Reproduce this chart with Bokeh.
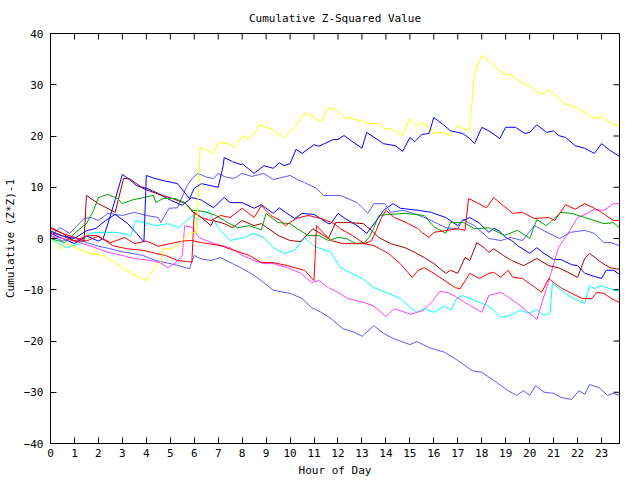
import math
from bokeh.plotting import figure
from bokeh.models import Range1d, FixedTicker
from bokeh.embed import file_html
from bokeh.resources import INLINE

title_text = "Cumulative Z-Squared Value"
x_label = "Hour of Day"
y_label = "Cumulative (Z*Z)-1"
hour_ticks = list(range(0, 24))
value_ticks = [-40, -30, -20, -10, 0, 10, 20, 30, 40]
x_min, x_max = 0, 23.75
y_min, y_max = -40, 40

# ---- series (hour, value) ----
yellow_h = [0, 0.4, 0.6, 1.05, 1.6, 2.2, 2.7, 3.3, 4.0, 4.3, 4.6, 4.7, 5.1, 5.4, 5.6, 5.9, 6.1, 6.25, 6.8, 7.0, 7.4, 7.7, 8.0, 8.25, 8.5, 8.7, 9.3, 9.75, 10.2, 10.5, 10.7, 11.3, 11.6, 11.8, 12.3, 12.8, 13.3, 13.7, 13.9, 14.2, 14.7, 15.0, 15.3, 15.5, 15.8, 16.0, 16.4, 16.7, 17.0, 17.3, 17.5, 17.7, 18.0, 18.4, 19.0, 19.2, 19.75, 20.0, 20.5, 20.8, 21.5, 22.0, 22.7, 23.0, 23.3, 23.75]
yellow_v = [0, -2, -1, -1.8, -2.9, -3.3, -4.7, -6.6, -8.2, -5.9, -4.6, -2, -2, -1, 0.2, 1.2, 1.2, 17.8, 16.6, 18.7, 18.5, 17.8, 19.9, 19.5, 20.3, 22.2, 21.2, 19.7, 21.7, 24, 24.4, 22.8, 25.4, 25.4, 23.6, 23.2, 22.4, 22.4, 21.5, 21.4, 20.1, 23.4, 22, 22.6, 21.7, 20.5, 20.7, 20, 22.2, 21.2, 21.4, 32.2, 35.7, 34.1, 32, 32, 30.2, 29.8, 28.1, 29, 26.3, 25.4, 23.4, 23.8, 22.8, 21.7]

blue1_h = [0, 0.5, 1.0, 1.5, 1.9, 2.3, 2.7, 3.2, 3.6, 3.9, 4.0, 4.3, 4.7, 5.3, 5.8, 6.0, 6.3, 7.0, 7.2, 7.25, 7.6, 7.95, 8.0, 8.5, 8.9, 9.3, 9.55, 9.75, 10.0, 10.25, 10.5, 11.0, 11.2, 11.8, 12.0, 12.25, 13.0, 13.2, 13.9, 14.4, 14.7, 15.0, 15.2, 15.5, 15.8, 16.0, 16.4, 16.7, 17.0, 17.2, 17.5, 17.7, 18.0, 18.3, 18.75, 19.0, 19.4, 19.8, 20.0, 20.3, 20.7, 21.0, 21.2, 21.5, 21.9, 22.3, 22.7, 23.0, 23.35, 23.75]
blue1_v = [1.5, 0.5, 0, 1.5, 2, 3.5, 4.7, 3, 1, -0.7, 12.3, 11.8, 11.3, 10.7, 7.8, 9.8, 10.7, 10, 14, 15.8, 15, 14.4, 14.6, 12.7, 14.2, 13.7, 14.8, 14.2, 14.6, 17.4, 16.6, 18.3, 18, 19.3, 19.3, 20.1, 17.6, 20.7, 18.5, 18.1, 17, 19.7, 18.9, 20.3, 20.5, 23.6, 22.2, 21, 20.7, 20.5, 19.5, 18.5, 21.7, 21, 19.5, 21.7, 21.7, 20.5, 20.7, 22.2, 20.7, 21, 20.1, 19.7, 18.1, 17.6, 16.6, 18.5, 17.2, 16]

blue2_h = [0, 0.5, 1.0, 1.5, 2.0, 2.2, 2.6, 3.0, 3.3, 3.6, 4.0, 4.5, 5.0, 5.5, 5.9, 6.3, 6.8, 7.25, 7.5, 8.0, 8.5, 8.8, 9.3, 9.55, 9.8, 10.2, 10.5, 11.0, 11.6, 11.7, 12.0, 12.3, 12.8, 13.2, 13.7, 13.9, 14.3, 14.6, 15.35, 15.9, 16.0, 16.5, 17.0, 17.2, 17.5, 17.9, 18.3, 18.5, 18.75, 19.0, 19.25, 19.5, 20.0, 20.3, 20.6, 21.0, 21.3, 21.75, 22.0, 22.3, 22.7, 23.0, 23.2, 23.5, 23.75]
blue2_v = [1, 0, -1, 0.5, -0.5, 0, 6, 12.5, 11.5, 10.3, 9.8, 8.8, 7.5, 6.5, 8, 7.5, 6, 8, 7, 7, 5.9, 6.6, 4.9, 6, 5.1, 3.9, 4.9, 4.7, 2.9, 2.9, 4.9, 3.9, 2.5, 1, 4.1, 5.5, 6.8, 5.9, 5.5, 5.1, 4.9, 4.1, 2.5, 3.5, 4.1, 3, 1.2, 2, 1.4, 0.2, -0.4, -1.4, -2.9, -1.8, -2.9, -4.1, -4.1, -5.1, -5.3, -6.8, -7.4, -7.8, -6.2, -6.2, -7]

lblue1_h = [0, 0.4, 0.8, 1.4, 1.7, 2.0, 2.4, 3.0, 3.5, 4.0, 4.5, 4.6, 4.95, 5.3, 5.7, 5.95, 6.15, 6.5, 6.8, 7.0, 7.3, 7.65, 8.0, 8.4, 8.9, 9.3, 10.0, 10.3, 10.6, 11.1, 11.4, 12.1, 12.8, 13.25, 13.5, 13.95, 14.2, 14.7, 15.15, 15.5, 15.9, 16.5, 17.0, 17.2, 17.7, 18.3, 18.8, 19.2, 19.7, 20.2, 20.6, 21.25, 21.7, 22.3, 22.7, 23.1, 23.4, 23.75]
lblue1_v = [0.5, 2.1, 1, 3.9, 4.1, 3.5, 4.9, 4.5, 5.1, 4.5, 4.1, 3.1, 5.9, 6, 10.3, 11.9, 12.7, 12, 11.7, 12.7, 12, 11.7, 12.7, 12.1, 12.7, 11.5, 12.3, 11.5, 10.9, 9.8, 8.4, 8.4, 7, 4.9, 6.8, 6.8, 5.1, 5.5, 4.9, 4.3, 3.5, 2.1, 1.9, 3.7, 2.5, 0, -0.4, 0.2, -0.4, 2.5, 1.5, 0, 1.2, 1.6, 1, -0.8, -0.8, -1.4]

lblue2_h = [0, 0.5, 1.0, 1.5, 2.0, 2.5, 3.0, 3.5, 3.85, 4.4, 4.9, 5.35, 5.8, 6.0, 6.3, 6.7, 7.1, 7.5, 7.95, 8.5, 8.9, 9.3, 10.0, 10.5, 10.9, 11.3, 11.7, 12.2, 12.7, 13.0, 13.5, 13.9, 14.3, 15.0, 15.3, 15.8, 16.45, 17.0, 17.6, 18.0, 18.5, 19.1, 19.45, 19.75, 20.0, 20.25, 20.6, 21.0, 21.3, 21.75, 22.05, 22.3, 22.5, 22.9, 23.25, 23.5, 23.75]
lblue2_v = [0.5, -0.5, 0.3, -0.8, -1.5, -2, -2.6, -3, -3.3, -4.3, -4.8, -5.3, -5.9, -3.3, -4, -4.3, -3.7, -4.7, -5.7, -7.2, -8.6, -10.1, -10.7, -11.7, -13.5, -14.4, -15.6, -17.6, -18.3, -19.1, -17, -18.5, -19.5, -20.7, -20.1, -21.3, -22.2, -23.8, -25.8, -26.1, -27.7, -29.7, -30.6, -29.7, -30.6, -28.7, -30, -30.2, -31, -31.4, -29.7, -30.4, -28.5, -29.1, -30.6, -30.2, -30.6]

red1_h = [0, 0.5, 1.0, 1.5, 2.0, 2.6, 3.2, 3.85, 4.4, 4.8, 5.3, 5.9, 6.0, 6.3, 6.7, 7.1, 7.5, 8.0, 8.5, 8.8, 9.2, 9.6, 9.8, 10.25, 10.75, 11.3, 11.85, 12.1, 12.6, 13.1, 13.4, 13.6, 13.8, 14.0, 14.35, 14.85, 15.35, 15.5, 15.8, 16.0, 17.0, 17.3, 17.45, 17.8, 18.2, 18.5, 18.9, 19.3, 19.7, 20.2, 20.8, 21.05, 21.5, 21.9, 22.3, 22.7, 23.0, 23.5, 23.75]
red1_v = [2.2, 1, 0.2, -0.5, 0.5, -1.4, -2, -2.3, -2.9, -3.3, -4.3, -4.6, 5.1, 4.1, 3.5, 4.5, 4.1, 5.9, 4.1, 6.4, 4.5, 3.5, 2.5, 3.9, 4.5, 3.9, 2.9, 1.9, 0.6, -1, -0.4, 1.6, 3.9, 5.5, 4.1, 3.1, 1.9, 1.2, 0.2, 1.2, 1.9, 1.6, 7.8, 7, 6, 8, 6.4, 4.9, 5.1, 3.9, 4.1, 3.5, 6.6, 5.7, 6.8, 5.9, 5.1, 3.5, 3.5]

red2_h = [0, 0.5, 1.0, 1.5, 1.9, 2.5, 3.1, 3.5, 4.0, 4.5, 5.0, 5.5, 5.9, 6.3, 7.1, 7.65, 8.3, 8.8, 9.3, 9.9, 10.6, 11.0, 11.1, 11.7, 12.2, 13.1, 13.5, 14.1, 14.6, 15.1, 15.35, 15.6, 16.0, 16.9, 17.1, 17.5, 17.9, 18.3, 18.5, 18.8, 19.1, 19.3, 19.7, 20.0, 20.5, 20.8, 21.05, 21.3, 21.75, 22.2, 22.6, 22.8, 23.1, 23.4, 23.75]
red2_v = [1.2, 0.5, -0.5, 0.5, 0.6, -0.8, 0.2, -1, -0.5, -1.5, -1, -0.5, -0.4, -0.8, -1.4, -2.3, -3.3, -4.7, -4.7, -5.3, -6.2, -8.2, 2.5, -0.4, -1, -1, -1.4, -2.9, -4.9, -7.6, -6.2, -5.7, -6.8, -9.6, -9.8, -6.8, -7.8, -6.8, -6.6, -7.6, -6.2, -7.6, -7.8, -8.8, -10.5, -7.8, -8.8, -9.6, -10.7, -11.7, -11.7, -10.5, -10.7, -11.7, -12.5]

dred_h = [0, 0.5, 1.0, 1.4, 1.5, 2.0, 2.7, 3.05, 3.3, 3.85, 4.4, 5.1, 5.65, 5.95, 6.3, 6.7, 6.8, 7.25, 7.6, 8.0, 8.5, 8.8, 9.5, 10.0, 10.45, 10.95, 11.6, 11.9, 12.5, 13.05, 13.4, 13.7, 14.2, 14.8, 15.2, 15.6, 16.0, 16.5, 16.7, 17.0, 17.3, 17.5, 17.8, 18.1, 18.3, 18.5, 18.9, 19.25, 19.75, 20.3, 20.8, 21.2, 21.6, 22.0, 22.3, 22.5, 23.0, 23.35, 23.75]
dred_v = [2, 1, -0.5, -0.5, 8.4, 6.8, 5.1, 11.7, 11.7, 9.8, 8.8, 7.8, 6.8, 5.1, 4.1, 2.5, 3.5, 2.9, 2.1, 3.5, 2.5, 2.9, 0.6, -0.4, -0.6, 1.9, 0, 3.1, 3.1, 2.9, 1.6, 0.2, -1, -1.8, -2.7, -3.7, -4.9, -6.8, -6.2, -6.8, -3.7, -4.3, -0.8, -1.8, -2.7, -2, -3.3, -4.3, -5.3, -3.9, -5.3, -5.7, -6.6, -7.6, -3.9, -2.9, -4.7, -5.7, -6]

green_h = [0, 0.6, 1.05, 1.5, 1.8, 2.0, 2.4, 2.8, 3.0, 3.4, 3.9, 4.3, 4.4, 4.7, 5.2, 5.6, 5.9, 6.4, 6.9, 7.4, 7.8, 8.3, 8.8, 9.0, 9.5, 10.0, 10.3, 10.75, 11.2, 11.6, 12.0, 12.35, 12.75, 13.1, 13.3, 13.5, 13.7, 14.15, 14.8, 15.6, 16.0, 16.5, 16.7, 17.25, 17.7, 18.3, 18.95, 19.5, 20.0, 20.3, 20.7, 21.3, 21.75, 22.3, 23.1, 23.5, 23.75]
green_v = [0, -0.8, 1.2, 2.9, 5.5, 8, 8.6, 7.8, 6.8, 7.5, 8, 8.4, 7, 7.8, 7.8, 7, 5.5, 5.3, 4.5, 3.1, 2.1, 2.5, 1.7, 4.9, 3.1, 2.9, 1.9, 0.6, 0.6, -0.4, 0.2, 0, -1, -0.8, 0.2, 2.1, 4.5, 4.7, 4.9, 4.5, 2.3, 1, 3.1, 3.1, 1.9, 2.1, 0.6, 1.6, 0, 3.7, 2.5, 5.1, 4.9, 4.1, 2.9, 3.1, 2.1]

cyan_h = [0, 0.35, 0.7, 1.25, 1.6, 2.0, 2.7, 3.0, 3.35, 3.55, 4.0, 4.4, 4.9, 5.35, 5.95, 6.15, 6.6, 7.0, 7.5, 8.1, 8.45, 8.9, 9.3, 9.75, 10.2, 10.4, 10.6, 11.0, 11.7, 12.1, 13.0, 13.5, 14.1, 14.6, 15.0, 15.3, 15.6, 16.0, 16.45, 16.7, 16.95, 17.2, 17.7, 18.2, 18.5, 18.8, 19.2, 19.6, 19.95, 20.3, 20.6, 20.85, 20.95, 21.3, 21.6, 22.0, 22.3, 22.5, 22.7, 23.0, 23.35, 23.75]
cyan_v = [0, -1, -1.8, -1, 1, 1.2, 1.2, 1, 0.5, 3.5, 3, 2.5, 2.9, 2.1, 4.5, 3.5, 5.5, 2.1, -0.4, 0.2, 1, 0.2, -1.8, -2.9, -2.3, -1, 0.2, -1.5, -2.7, -5.7, -7.8, -9.6, -10.7, -11.7, -13.4, -14.4, -13.7, -14.4, -13.2, -14, -11.7, -11.1, -12.1, -13, -14, -15.4, -15, -14, -14.6, -13.9, -15, -14.5, -8.8, -10, -11.1, -12.1, -12.7, -9.2, -9.8, -9.2, -9.8, -10.3]

magenta_h = [0, 0.5, 1.0, 1.5, 2.0, 2.4, 2.9, 3.5, 4.2, 4.6, 4.9, 5.2, 5.5, 5.6, 5.9, 6.2, 6.7, 7.5, 8.0, 8.5, 8.9, 9.3, 9.9, 10.45, 10.9, 11.2, 11.6, 12.0, 12.4, 13.1, 13.5, 14.0, 14.35, 15.05, 15.55, 15.9, 16.25, 16.6, 16.9, 17.3, 18.0, 18.3, 18.8, 19.5, 20.3, 20.8, 21.2, 21.6, 22.0, 22.4, 22.7, 23.1, 23.5, 23.75]
magenta_v = [0.5, 0, -0.5, -1.2, -2, -2.7, -3.2, -3.9, -4.3, -4.8, -5.7, -4.8, -3.3, 2.5, 2.2, 0.2, -0.8, -1.8, -3.3, -4.3, -4.9, -4.9, -5.7, -6.8, -8.6, -8.2, -9.6, -10.5, -11.7, -12.5, -13.2, -15.2, -13.7, -14.8, -14, -12.5, -10.3, -10.6, -11.3, -12.5, -14.4, -11.1, -10.5, -12.7, -15.8, -8.2, -1.8, 1, 4.1, 4.9, 5.7, 5.5, 6.8, 6.8]

series = [
    (blue2_h, blue2_v, "#0000ff"),
    (lblue2_h, lblue2_v, "#5a5aff"),
    (lblue1_h, lblue1_v, "#5a5aff"),
    (cyan_h, cyan_v, "#00ffff"),
    (magenta_h, magenta_v, "#ff40ff"),
    (dred_h, dred_v, "#a00000"),
    (green_h, green_v, "#00a000"),
    (red2_h, red2_v, "#ff0000"),
    (red1_h, red1_v, "#ff0000"),
    (yellow_h, yellow_v, "#ffff00"),
    (blue1_h, blue1_v, "#0000ff"),
]

FONT = "DejaVu Sans Mono"
FS = "11px"

p = figure(width=640, height=480, output_backend="svg", toolbar_location=None,
           x_range=Range1d(x_min, x_max), y_range=Range1d(y_min, y_max),
           min_border_left=49, min_border_right=21, min_border_top=33, min_border_bottom=37,
           title=title_text)
p.background_fill_color = "white"
p.border_fill_color = "white"
p.outline_line_color = "black"
p.outline_line_width = 1
p.grid.visible = False

p.title.align = "center"
p.title.text_font = FONT
p.title.text_font_size = FS
p.title.text_font_style = "normal"
p.title.text_color = "black"
p.title.standoff = 17

for h, v, c in series:
    p.line(h, v, line_color=c, line_width=1)

def style_axis(ax, ticks):
    ax.ticker = FixedTicker(ticks=ticks)
    ax.major_tick_in = 6
    ax.major_tick_out = 0
    ax.minor_tick_line_color = None
    ax.axis_line_color = "black"
    ax.major_tick_line_color = "black"
    ax.major_label_text_font = FONT
    ax.major_label_text_font_size = FS
    ax.major_label_text_color = "black"
    ax.axis_label_text_font = FONT
    ax.axis_label_text_font_size = FS
    ax.axis_label_text_font_style = "normal"
    ax.axis_label_text_color = "black"

xa = p.xaxis[0]
style_axis(xa, hour_ticks)
xa.axis_label = x_label
xa.major_label_standoff = 5
xa.axis_label_standoff = 4

ya = p.yaxis[0]
style_axis(ya, value_ticks)
ya.axis_label = y_label
ya.major_label_standoff = 7
ya.axis_label_standoff = 4

# mirrored inward ticks on the top and right edges of the frame
p.ray(x=hour_ticks, y=[y_max] * len(hour_ticks), length=6, length_units="screen",
      angle=-math.pi / 2, line_color="black", line_width=1)
p.ray(x=[x_max] * len(value_ticks), y=value_ticks, length=6, length_units="screen",
      angle=math.pi, line_color="black", line_width=1)

open("out.html", "w").write(file_html(p, INLINE))
